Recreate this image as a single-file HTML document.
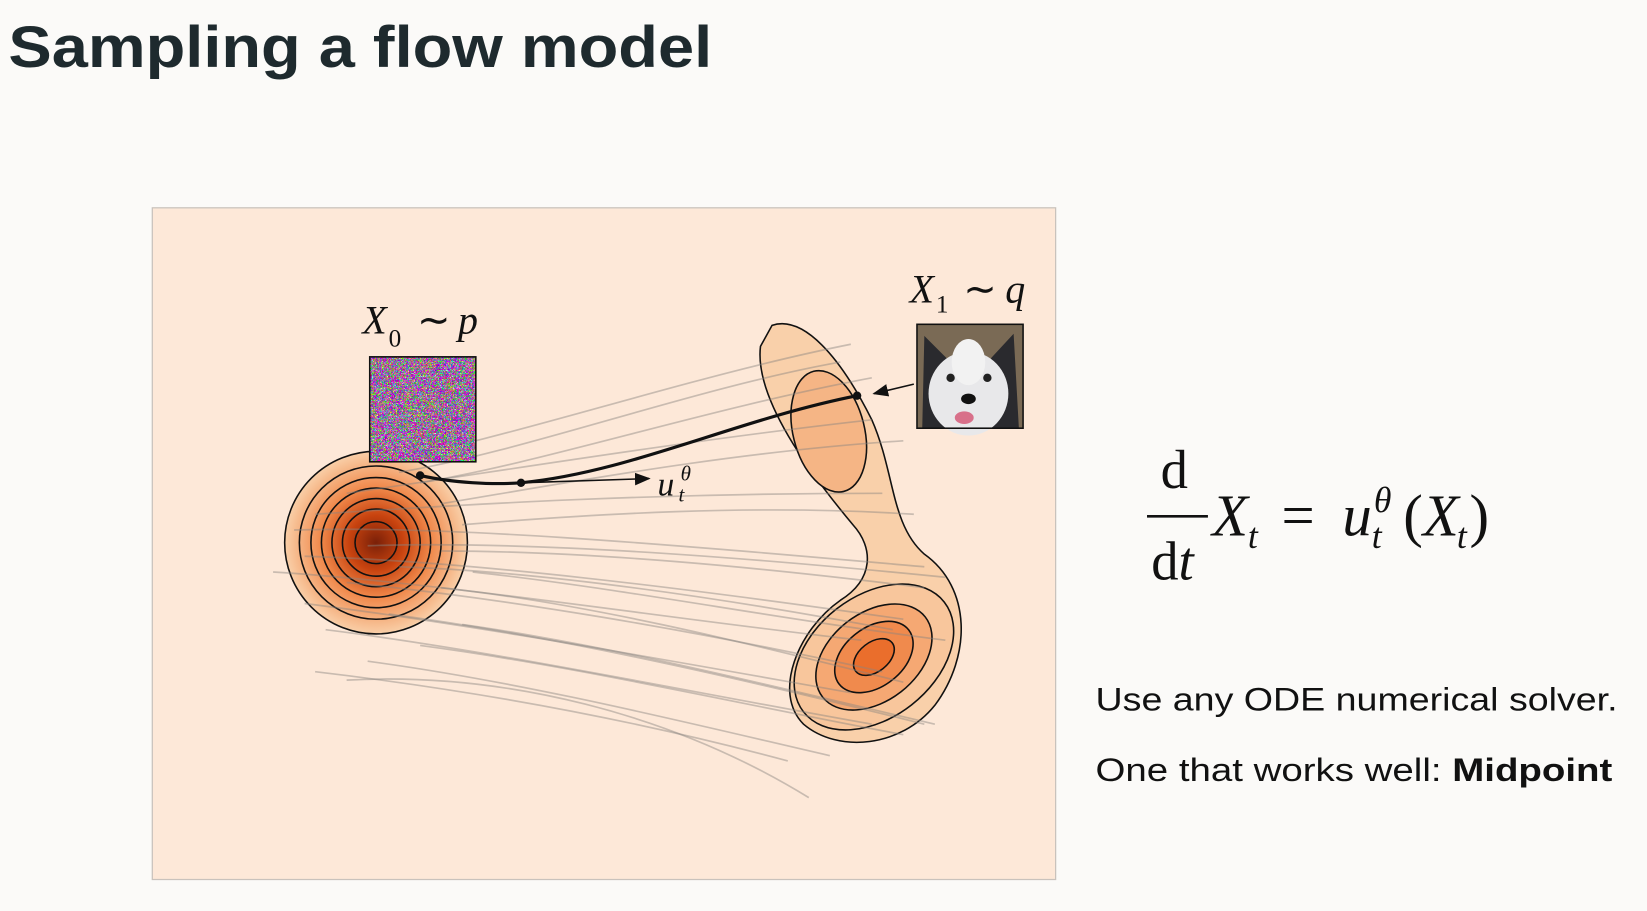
<!DOCTYPE html>
<html><head><meta charset="utf-8"><style>
html,body{margin:0;padding:0;background:#fbfaf8;}
svg{display:block}
</style></head><body>
<svg width="1647" height="911" viewBox="0 0 1568 868" preserveAspectRatio="none" xmlns="http://www.w3.org/2000/svg">
<defs>
<filter id="noise" x="0" y="0" width="100%" height="100%">
<feTurbulence type="turbulence" baseFrequency="0.7" numOctaves="1" seed="3"/>
<feColorMatrix type="matrix" values="3 -1 0 0 0.1  -1 3 -1 0 0.1  0 -1 3 0 0.1  0 0 0 0 1"/>
</filter>
<radialGradient id="lg" cx="0.5" cy="0.5" r="0.5">
<stop offset="0" stop-color="#7a2008"/><stop offset="0.3" stop-color="#c8430f"/><stop offset="0.6" stop-color="#f0884a"/><stop offset="1" stop-color="#f9cfa8"/>
</radialGradient>
<marker id="ah" markerWidth="10" markerHeight="8" refX="9" refY="4" orient="auto"><path d="M0,0 L10,4 L0,8 Z" fill="#111"/></marker>
</defs>
<rect width="1568" height="868" fill="#fbfaf8"/>
<text x="8" y="64" font-family="Liberation Sans, sans-serif" font-size="56" font-weight="bold" fill="#1e2a2e" textLength="670" lengthAdjust="spacingAndGlyphs">Sampling a flow model</text>
<rect x="145" y="198" width="860" height="640" fill="#fde8d8" stroke="#c9c2bc" stroke-width="1.2"/>
<path d="M735 310 C765 300 800 340 830 400 C852 450 848 500 880 528 C925 560 925 625 890 672 C858 712 798 718 765 690 C735 660 760 600 800 572 C832 552 832 522 812 500 C772 452 718 380 724 330 Z" fill="#f9d0aa" stroke="#111" stroke-width="1.5"/>
<ellipse cx="789" cy="411" rx="34" ry="59" transform="rotate(-14 789 411)" fill="#f5b585" stroke="#111" stroke-width="1.5"/>
<g transform="rotate(-38 832 626)" stroke="#111" stroke-width="1.5">
<ellipse cx="832" cy="626" rx="85" ry="58" fill="#f8c69c"/>
<ellipse cx="832" cy="626" rx="62" ry="42" fill="#f5a873"/>
<ellipse cx="832" cy="626" rx="42" ry="28" fill="#f08a4d"/>
<ellipse cx="832" cy="626" rx="22" ry="14" fill="#ea6e2c"/>
</g>
<circle cx="358" cy="517" r="87" fill="url(#lg)"/>
<g fill="none" stroke="#111" stroke-width="1.5">
<circle cx="358" cy="517" r="87"/><circle cx="358" cy="517" r="73"/><circle cx="358" cy="517" r="62"/><circle cx="358" cy="517" r="52"/><circle cx="358" cy="517" r="42"/><circle cx="358" cy="517" r="32"/><circle cx="358" cy="517" r="20"/>
</g>
<g fill="none" stroke="#8a8580" stroke-opacity="0.45" stroke-width="1.6">
<path d="M360 440 C480 420 650 360 810 328"/>
<path d="M380 450 C500 430 660 370 800 345"/>
<path d="M400 460 C520 440 670 390 830 360"/>
<path d="M330 470 C470 450 650 420 830 400"/>
<path d="M420 480 C540 460 700 430 860 420"/>
<path d="M300 490 C450 480 620 470 840 470"/>
<path d="M440 500 C560 490 720 480 870 490"/>
<path d="M280 505 C430 500 650 520 880 540"/>
<path d="M350 520 C500 515 700 530 900 550"/>
<path d="M420 525 C560 525 720 540 880 560"/>
<path d="M290 530 C450 535 650 560 860 590"/>
<path d="M380 540 C520 545 690 570 850 600"/>
<path d="M260 545 C420 555 640 590 820 610"/>
<path d="M330 555 C480 570 660 600 840 640"/>
<path d="M420 560 C560 575 700 610 860 650"/>
<path d="M290 575 C450 595 640 630 810 660"/>
<path d="M370 585 C520 605 680 640 880 690"/>
<path d="M310 600 C470 620 660 660 830 690"/>
<path d="M400 615 C550 635 700 670 860 700"/>
<path d="M350 630 C500 650 660 690 790 720"/>
<path d="M330 648 C480 640 640 680 770 760"/>
<path d="M300 640 C470 660 620 690 750 725"/>
<path d="M440 595 C580 615 720 650 890 690"/>
<path d="M450 545 C590 560 740 590 900 610"/>
</g>
<rect x="352" y="340" width="101" height="100" fill="#888" filter="url(#noise)"/>
<rect x="352" y="340" width="101" height="100" fill="none" stroke="#111" stroke-width="1.5"/>
<rect x="873" y="309" width="101" height="99" fill="#7a6a55"/>
<path d="M880 320 L905 345 L940 345 L965 318 L970 408 L878 408 Z" fill="#2a2a2e"/>
<ellipse cx="922" cy="375" rx="38" ry="40" fill="#e8e8ea"/>
<ellipse cx="922" cy="345" rx="16" ry="22" fill="#f2f2f2"/>
<circle cx="905" cy="360" r="4" fill="#222"/><circle cx="940" cy="360" r="4" fill="#222"/>
<ellipse cx="922" cy="380" rx="7" ry="5" fill="#111"/>
<ellipse cx="918" cy="398" rx="9" ry="6" fill="#d8708a"/>
<rect x="873" y="309" width="101" height="99" fill="none" stroke="#111" stroke-width="1.5"/>
<path d="M400 453 C430 460 470 462 496 460 C600 450 700 400 816 377" fill="none" stroke="#111" stroke-width="3"/>
<circle cx="400" cy="453" r="4" fill="#111"/><circle cx="496" cy="460" r="4" fill="#111"/><circle cx="816" cy="377" r="4" fill="#111"/>
<line x1="496" y1="460" x2="618" y2="456" stroke="#111" stroke-width="1.5" marker-end="url(#ah)"/>
<line x1="870" y1="366" x2="832" y2="375" stroke="#111" stroke-width="1.5" marker-end="url(#ah)"/>
<g font-family="Liberation Serif, serif" fill="#111">
<text x="626" y="472" font-size="32" font-style="italic">u</text>
<text x="646" y="478" font-size="20" font-style="italic">t</text>
<text x="648" y="458" font-size="20" font-style="italic">θ</text>
<text x="345" y="318" font-size="38" font-style="italic">X</text>
<text x="370" y="330" font-size="24">0</text>
<text x="397" y="318" font-size="38">∼</text>
<text x="436" y="318" font-size="38" font-style="italic">p</text>
<text x="866" y="288" font-size="38" font-style="italic">X</text>
<text x="891" y="298" font-size="24">1</text>
<text x="917" y="288" font-size="38">∼</text>
<text x="957" y="288" font-size="38" font-style="italic">q</text>
<text x="1105" y="465" font-size="52">d</text>
<line x1="1092" y1="492" x2="1150" y2="492" stroke="#111" stroke-width="2.5"/>
<text x="1096" y="552" font-size="52">d<tspan font-style="italic">t</tspan></text>
<text x="1154" y="510" font-size="56" font-style="italic">X</text>
<text x="1188" y="522" font-size="34" font-style="italic">t</text>
<text x="1220" y="510" font-size="56">=</text>
<text x="1278" y="510" font-size="56" font-style="italic">u</text>
<text x="1306" y="522" font-size="34" font-style="italic">t</text>
<text x="1308" y="488" font-size="34" font-style="italic">θ</text>
<text x="1336" y="510" font-size="56">(<tspan font-style="italic">X</tspan></text>
<text x="1387" y="522" font-size="34" font-style="italic">t</text>
<text x="1399" y="510" font-size="56">)</text>
</g>
<g font-family="Liberation Sans, sans-serif" font-size="31" fill="#111">
<text x="1043" y="677" textLength="497" lengthAdjust="spacingAndGlyphs">Use any ODE numerical solver.</text>
<text x="1043" y="744" textLength="492" lengthAdjust="spacingAndGlyphs">One that works well: <tspan font-weight="bold">Midpoint</tspan></text>
</g>
</svg>
</body></html>
